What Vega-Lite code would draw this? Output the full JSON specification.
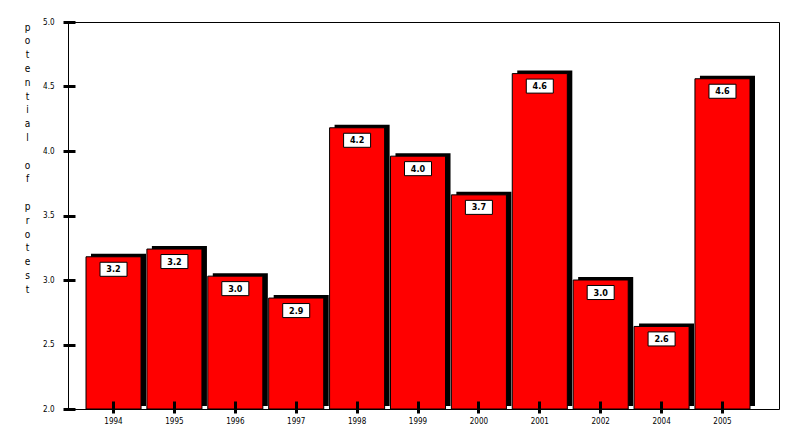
{
  "$schema": "https://vega.github.io/schema/vega-lite/v6.json",
  "width": 711,
  "height": 387,
  "autosize": "none",
  "padding": {"left": 68, "top": 22, "right": 20, "bottom": 28},
  "background": "white",
  "config": {
    "view": {"stroke": "black", "strokeWidth": 1},
    "font": "DejaVu Sans Condensed"
  },
  "data": {
    "values": [
      {"year": "1994", "value": 3.18},
      {"year": "1995", "value": 3.24},
      {"year": "1996", "value": 3.03},
      {"year": "1997", "value": 2.86},
      {"year": "1998", "value": 4.18},
      {"year": "1999", "value": 3.96},
      {"year": "2000", "value": 3.66},
      {"year": "2001", "value": 4.6},
      {"year": "2002", "value": 3.0},
      {"year": "2004", "value": 2.64},
      {"year": "2005", "value": 4.56}
    ]
  },
  "encoding": {
    "x": {
      "field": "year",
      "type": "ordinal",
      "scale": {"range": [18, 682], "paddingInner": 0.096, "paddingOuter": 0},
      "axis": {
        "title": null,
        "domain": false,
        "grid": false,
        "offset": -8,
        "tickSize": 12,
        "tickWidth": 3,
        "tickColor": "black",
        "labelAngle": 0,
        "labelFontSize": 8,
        "labelColor": "black",
        "labelPadding": 4,
        "zindex": 1
      }
    },
    "y": {
      "field": "value",
      "type": "quantitative",
      "scale": {"domain": [2, 5], "nice": false, "zero": false},
      "axis": {
        "values": [2, 2.5, 3, 3.5, 4, 4.5, 5],
        "format": ".1f",
        "domain": false,
        "grid": false,
        "offset": -7,
        "tickSize": 12,
        "tickWidth": 3,
        "tickColor": "black",
        "labelFontSize": 8,
        "labelColor": "black",
        "labelPadding": 9,
        "zindex": 1,
        "title": ["p","o","t","e","n","t","i","a","l","\u2800","o","f","\u2800","p","r","o","t","e","s","t"],
        "titleAngle": 0,
        "titleAlign": "center",
        "titleBaseline": "top",
        "titleFont": "DejaVu Sans Condensed",
        "titleFontSize": 10,
        "titleFontWeight": "normal",
        "titleColor": "black",
        "titleLineHeight": 13.8,
        "titleX": -48,
        "titleY": 0
      }
    },
    "y2": {"datum": 2}
  },
  "layer": [
    {
      "mark": {"type": "bar", "color": "black", "xOffset": 5, "x2Offset": 5, "yOffset": -3, "y2Offset": -3}
    },
    {
      "mark": {"type": "bar", "fill": "#ff0000", "stroke": "black", "strokeWidth": 1}
    },
    {
      "mark": {
        "type": "point",
        "shape": "M-1,-0.52L1,-0.52L1,0.52L-1,0.52Z",
        "size": 729,
        "filled": true,
        "fill": "white",
        "stroke": "black",
        "strokeWidth": 1,
        "opacity": 1,
        "yOffset": 12.5
      },
      "encoding": {"y2": null}
    },
    {
      "mark": {
        "type": "text",
        "fontSize": 9,
        "fontWeight": "bold",
        "color": "black",
        "baseline": "middle",
        "align": "center",
        "yOffset": 12.5
      },
      "encoding": {
        "y2": null,
        "text": {"field": "value", "type": "quantitative", "format": ".1f"}
      }
    }
  ]
}
